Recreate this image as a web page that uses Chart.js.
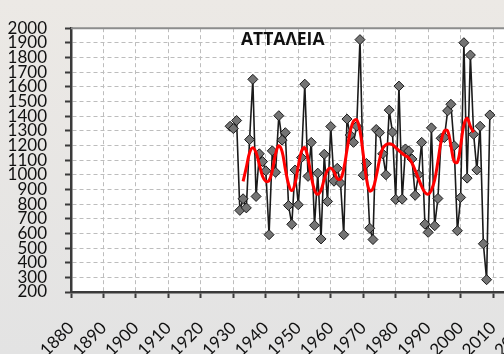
<!DOCTYPE html>
<html>
<head>
<meta charset="utf-8">
<script src="https://cdn.jsdelivr.net/npm/chart.js@4/dist/chart.umd.min.js"></script>
<style>
  html, body { margin: 0; padding: 0; width: 504px; height: 354px; overflow: hidden;
    background: linear-gradient(#ece9e5, #e3e3e3); }
  #wrap { position: absolute; left: 0; top: 0; width: 560px; height: 354px; }
</style>
</head>
<body>
<div id="wrap"><canvas id="chart" width="560" height="354"></canvas></div>
<script>
// Station name shown inside the plot
const stationName = 'ΑΤΤΑΛΕΙΑ';

// Years with annual rainfall records (mm)
const years = [
  1929, 1930, 1931, 1932, 1933, 1934, 1935, 1936, 1937, 1938,
  1939, 1940, 1941, 1942, 1943, 1944, 1945, 1946, 1947, 1948,
  1949, 1950, 1951, 1952, 1953, 1954, 1955, 1956, 1957, 1958,
  1959, 1960, 1961, 1962, 1963, 1964, 1965, 1966, 1967, 1968,
  1969, 1970, 1971, 1972, 1973, 1974, 1975, 1976, 1977, 1978,
  1979, 1980, 1981, 1982, 1983, 1984, 1985, 1986, 1987, 1988,
  1989, 1990, 1991, 1992, 1993, 1994, 1995, 1996, 1997, 1998,
  1999, 2000, 2001, 2002, 2003, 2004, 2005, 2006, 2007, 2008,
  2009
];

// Annual rainfall (mm)
const annualRain = [
  1331, 1315, 1370,  757,  836,  774, 1240, 1651,  852, 1143,
  1090, 1027,  591, 1163, 1017, 1403, 1236, 1287,  790,  662,
  1032,  795, 1117, 1618,  989, 1221,  655, 1011,  562, 1140,
   818, 1329,  956, 1044,  944,  591, 1380, 1271, 1221, 1331,
  1922,  997, 1077,  635,  558, 1309, 1287, 1143, 1000, 1441,
  1291,  832, 1605,  834, 1176, 1162, 1108,  860, 1000, 1221,
   663,  607, 1320,  652,  838, 1249, 1254, 1436, 1481, 1198,
   618,  845, 1901,  977, 1817, 1276, 1033, 1331,  529,  284,
  1408
];

// Years covered by the low-pass filtered curve
const filteredYears = [
  1933, 1934, 1935, 1936, 1937, 1938, 1939, 1940, 1941, 1942,
  1943, 1944, 1945, 1946, 1947, 1948, 1949, 1950, 1951, 1952,
  1953, 1954, 1955, 1956, 1957, 1958, 1959, 1960, 1961, 1962,
  1963, 1964, 1965, 1966, 1967, 1968, 1969, 1970, 1971, 1972,
  1973, 1974, 1975, 1976, 1977, 1978, 1979, 1980, 1981, 1982,
  1983, 1984, 1985, 1986, 1987, 1988, 1989, 1990, 1991, 1992,
  1993, 1994, 1995, 1996, 1997, 1998, 1999, 2000, 2001, 2002,
  2003, 2004
];

// Low-pass filtered rainfall (mm)
const filteredRain = [
   955, 1050, 1150, 1185, 1150, 1070,  990,  955,  960, 1030,
  1140, 1198, 1160, 1040,  935,  892,  940, 1060, 1160, 1185,
  1110,  990,  895,  867,  895,  970, 1030, 1045, 1020,  975,
   970, 1040, 1170, 1295, 1365, 1375, 1300, 1140,  975,  890,
   905,  990, 1100, 1180, 1205, 1212, 1205, 1185, 1165, 1145,
  1130, 1115, 1080, 1030,  975,  920,  880,  867,  895,  965,
  1090, 1230, 1300, 1300, 1200, 1090, 1085, 1200, 1340, 1385,
  1330, 1290
];

// Axis tick values
const yearTicks = [1880, 1890, 1900, 1910, 1920, 1930, 1940, 1950, 1960, 1970, 1980, 1990, 2000, 2010, 2020];
const rainTicks = [200, 300, 400, 500, 600, 700, 800, 900, 1000, 1100, 1200, 1300, 1400, 1500, 1600, 1700, 1800, 1900, 2000];

const FONT = 'Lato, "Liberation Sans", sans-serif';

// White plot area, grey frame on top/right and the station title
const plotFrame = {
  id: 'plotFrame',
  beforeDraw(chart) {
    const { ctx, chartArea: a } = chart;
    ctx.save();
    ctx.fillStyle = '#ffffff';
    ctx.fillRect(a.left, a.top, a.right - a.left, a.bottom - a.top);
    ctx.restore();
  },
  beforeDatasetsDraw(chart) {
    const { ctx, chartArea: a } = chart;
    ctx.save();
    ctx.strokeStyle = '#8c8c8c';
    ctx.lineWidth = 2;
    ctx.beginPath();
    ctx.moveTo(a.left, a.top);
    ctx.lineTo(a.right, a.top);
    ctx.lineTo(a.right, a.bottom);
    ctx.stroke();
    ctx.restore();
  },
  afterDraw(chart) {
    const { ctx } = chart;
    ctx.save();
    ctx.font = 'bold 17.5px "Open Sans", "DejaVu Sans", sans-serif';
    ctx.fillStyle = '#111111';
    ctx.textAlign = 'left';
    ctx.textBaseline = 'alphabetic';
    ctx.fillText(stationName, 241, 45);
    ctx.restore();
  }
};

const makeGrid = () => ({ display: true, drawOnChartArea: true, color: '#bdbdbd', lineWidth: 1, tickLength: 6, tickColor: '#3a3a3a', tickWidth: 2 });
const makeBorder = () => ({ display: true, color: '#3a3a3a', width: 2.5, dash: [4, 3] });

new Chart(document.getElementById('chart').getContext('2d'), {
  type: 'line',
  data: {
    datasets: [
      {
        label: 'filtered',
        data: filteredYears.map((yr, i) => ({ x: yr, y: filteredRain[i] })),
        borderColor: '#ff0000',
        borderWidth: 3,
        pointRadius: 0,
        tension: 0.4,
        fill: false,
        order: 0
      },
      {
        label: 'annual',
        data: years.map((yr, i) => ({ x: yr, y: annualRain[i] })),
        borderColor: '#1a1a1a',
        borderWidth: 1.6,
        pointStyle: 'rectRot',
        pointRadius: 5,
        pointBackgroundColor: '#747474',
        pointBorderColor: '#1a1a1a',
        pointBorderWidth: 1,
        tension: 0,
        fill: false,
        order: 1
      }
    ]
  },
  options: {
    responsive: false,
    animation: false,
    devicePixelRatio: 1,
    layout: { padding: { left: 0, top: 20, right: 21, bottom: 0 } },
    plugins: { legend: { display: false }, tooltip: { enabled: false }, title: { display: false } },
    scales: {
      x: {
        type: 'linear',
        min: 1880,
        max: 2020,
        afterBuildTicks: s => { s.ticks = yearTicks.map(v => ({ value: v })); },
        afterFit: s => { s.height = 62; },
        ticks: {
          autoSkip: false,
          minRotation: 45,
          maxRotation: 45,
          padding: 20,
          color: '#111111',
          font: { family: FONT, size: 17 },
          callback: v => String(v)
        },
        grid: makeGrid(),
        border: makeBorder()
      },
      y: {
        min: 200,
        max: 2000,
        afterBuildTicks: s => { s.ticks = rainTicks.map(v => ({ value: v })); },
        afterFit: s => { s.width = 71; },
        ticks: {
          autoSkip: false,
          padding: 18,
          color: '#111111',
          font: { family: FONT, size: 17 },
          callback: v => String(v)
        },
        grid: makeGrid(),
        border: makeBorder()
      }
    }
  },
  plugins: [plotFrame]
});
</script>
</body>
</html>
